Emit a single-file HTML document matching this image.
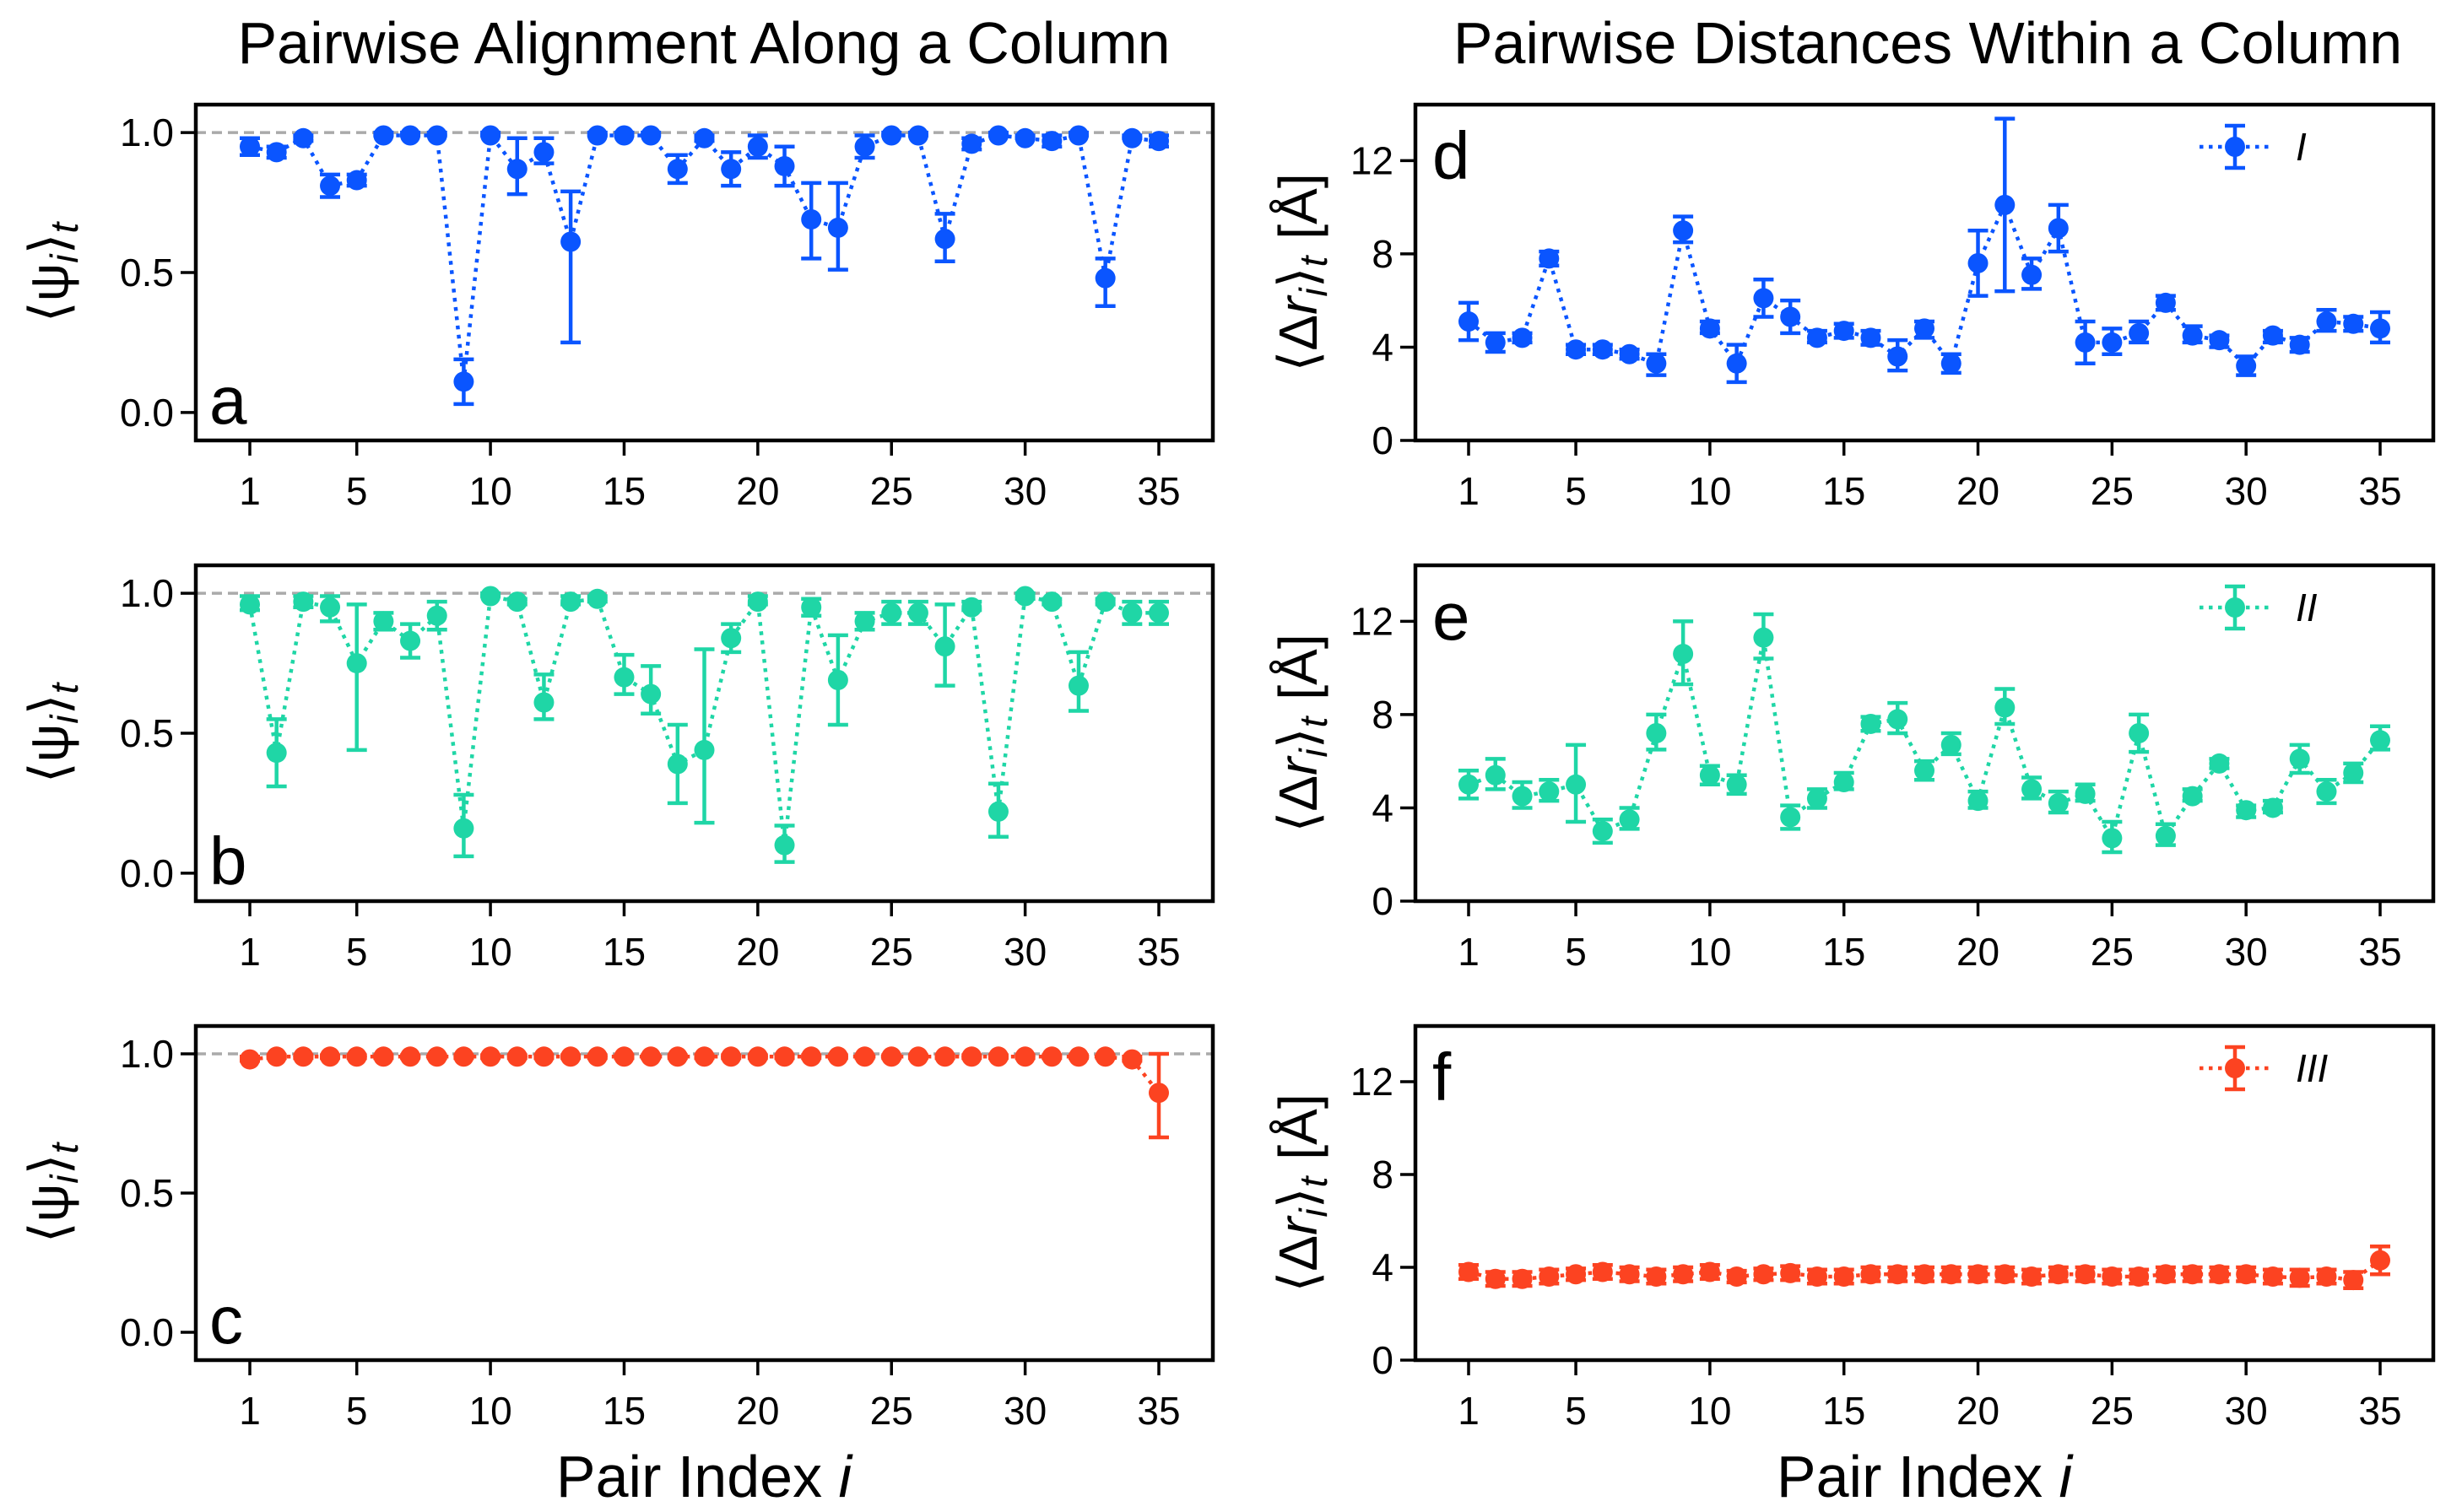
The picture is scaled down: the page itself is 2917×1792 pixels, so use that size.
<!DOCTYPE html>
<html><head><meta charset="utf-8"><style>
html,body{margin:0;padding:0;background:#fff;}
svg{display:block;font-family:"Liberation Sans",sans-serif;}
</style></head><body>
<svg id="fig" width="2917" height="1792" viewBox="0 0 2917 1792" xmlns="http://www.w3.org/2000/svg">
<text x="834" y="75" font-size="70" text-anchor="middle">Pairwise Alignment Along a Column</text>
<text x="2284" y="75" font-size="70" text-anchor="middle">Pairwise Distances Within a Column</text>
<text x="834" y="1774" font-size="70" text-anchor="middle">Pair Index <tspan font-style="italic">i</tspan></text>
<text x="2280" y="1774" font-size="70" text-anchor="middle">Pair Index <tspan font-style="italic">i</tspan></text>
</svg>
<script>
// ---- data ----
const pairIndex = [1,2,3,4,5,6,7,8,9,10,11,12,13,14,15,16,17,18,19,20,21,22,23,24,25,26,27,28,29,30,31,32,33,34,35];
const xTicks = [1,5,10,15,20,25,30,35];
const psiTicks = [0.0,0.5,1.0];
const psiTickLabels = ["0.0","0.5","1.0"];
const distTicks = [0,4,8,12];
const distTickLabels = ["0","4","8","12"];

const psiI   = [0.95,0.93,0.98,0.81,0.83,0.99,0.99,0.99,0.11,0.99,0.87,0.93,0.61,0.99,0.99,0.99,0.87,0.98,0.87,0.95,0.88,0.69,0.66,0.95,0.99,0.99,0.62,0.96,0.99,0.98,0.97,0.99,0.48,0.98,0.97];
const psiIlo = [0.92,0.91,0.97,0.77,0.81,0.99,0.99,0.99,0.03,0.99,0.78,0.89,0.25,0.99,0.99,0.99,0.82,0.97,0.81,0.91,0.81,0.55,0.51,0.91,0.99,0.99,0.54,0.94,0.99,0.98,0.95,0.99,0.38,0.98,0.95];
const psiIhi = [0.98,0.95,0.99,0.85,0.85,1.0,1.0,1.0,0.19,1.0,0.98,0.98,0.79,1.0,1.0,1.0,0.92,0.99,0.93,0.99,0.95,0.82,0.82,0.99,1.0,1.0,0.71,0.98,1.0,0.99,0.99,1.0,0.55,0.99,0.99];

const psiII   = [0.96,0.43,0.97,0.95,0.75,0.90,0.83,0.92,0.16,0.99,0.97,0.61,0.97,0.98,0.70,0.64,0.39,0.44,0.84,0.97,0.10,0.95,0.69,0.90,0.93,0.93,0.81,0.95,0.22,0.99,0.97,0.67,0.97,0.93,0.93];
const psiIIlo = [0.94,0.31,0.95,0.90,0.44,0.87,0.77,0.87,0.06,0.99,0.96,0.55,0.96,0.97,0.64,0.57,0.25,0.18,0.79,0.96,0.04,0.92,0.53,0.87,0.89,0.89,0.67,0.94,0.13,0.98,0.96,0.58,0.96,0.89,0.89];
const psiIIhi = [0.99,0.55,0.99,0.99,0.96,0.93,0.89,0.97,0.28,1.0,0.98,0.71,0.99,0.99,0.78,0.74,0.53,0.80,0.89,0.99,0.17,0.98,0.85,0.93,0.97,0.97,0.96,0.97,0.32,1.0,0.98,0.79,0.98,0.97,0.97];

const psiIII   = [0.98,0.99,0.99,0.99,0.99,0.99,0.99,0.99,0.99,0.99,0.99,0.99,0.99,0.99,0.99,0.99,0.99,0.99,0.99,0.99,0.99,0.99,0.99,0.99,0.99,0.99,0.99,0.99,0.99,0.99,0.99,0.99,0.99,0.98,0.86];
const psiIIIlo = [0.975,0.985,0.985,0.985,0.985,0.985,0.985,0.985,0.985,0.985,0.985,0.985,0.985,0.985,0.985,0.985,0.985,0.985,0.985,0.985,0.985,0.985,0.985,0.985,0.985,0.985,0.985,0.985,0.985,0.985,0.985,0.985,0.985,0.975,0.70];
const psiIIIhi = [0.99,0.995,0.995,0.995,0.995,0.995,0.995,0.995,0.995,0.995,0.995,0.995,0.995,0.995,0.995,0.995,0.995,0.995,0.995,0.995,0.995,0.995,0.995,0.995,0.995,0.995,0.995,0.995,0.995,0.995,0.995,0.995,0.995,0.99,1.0];

const distI   = [5.1,4.2,4.4,7.8,3.9,3.9,3.7,3.3,9.0,4.8,3.3,6.1,5.3,4.4,4.7,4.4,3.6,4.8,3.3,7.6,10.1,7.1,9.1,4.2,4.2,4.6,5.9,4.5,4.3,3.2,4.5,4.1,5.1,5.0,4.8];
const distIlo = [4.3,3.8,4.2,7.5,3.7,3.7,3.5,2.8,8.5,4.6,2.5,5.3,4.6,4.2,4.4,4.1,3.0,4.4,2.9,6.2,6.4,6.5,8.1,3.3,3.7,4.2,5.6,4.2,4.0,2.8,4.2,3.8,4.7,4.7,4.2];
const distIhi = [5.9,4.6,4.6,8.1,4.1,4.1,3.9,3.7,9.6,5.1,4.1,6.9,6.0,4.7,5.0,4.7,4.3,5.1,3.7,9.0,13.8,7.8,10.1,5.1,4.8,5.1,6.2,4.9,4.5,3.6,4.7,4.4,5.6,5.3,5.5];

const distII   = [5.0,5.4,4.5,4.7,5.0,3.0,3.5,7.2,10.6,5.4,5.0,11.3,3.6,4.4,5.1,7.6,7.8,5.6,6.7,4.3,8.3,4.8,4.2,4.6,2.7,7.2,2.8,4.5,5.9,3.9,4.0,6.1,4.7,5.5,6.9];
const distIIlo = [4.4,4.8,4.0,4.3,3.4,2.5,3.1,6.5,9.3,5.0,4.6,10.4,3.1,4.0,4.8,7.3,7.2,5.2,6.3,4.0,7.6,4.4,3.8,4.3,2.1,6.4,2.4,4.3,5.7,3.6,3.8,5.5,4.2,5.1,6.5];
const distIIhi = [5.6,6.1,5.1,5.2,6.7,3.5,4.0,8.0,12.0,5.8,5.4,12.3,4.1,4.8,5.5,7.9,8.5,6.0,7.2,4.7,9.1,5.3,4.7,5.0,3.4,8.0,3.3,4.8,6.1,4.1,4.3,6.7,5.2,5.9,7.5];

const distIII   = [3.8,3.5,3.5,3.6,3.7,3.8,3.7,3.6,3.7,3.8,3.6,3.7,3.75,3.6,3.6,3.7,3.7,3.7,3.7,3.7,3.7,3.6,3.7,3.7,3.6,3.6,3.7,3.7,3.7,3.7,3.6,3.55,3.6,3.45,4.3];
const distIIIlo = [3.5,3.2,3.2,3.3,3.45,3.5,3.4,3.3,3.4,3.5,3.35,3.45,3.45,3.3,3.3,3.4,3.4,3.4,3.4,3.4,3.4,3.3,3.4,3.4,3.3,3.3,3.4,3.4,3.4,3.4,3.3,3.2,3.3,3.1,3.7];
const distIIIhi = [4.1,3.8,3.8,3.9,3.95,4.1,4.0,3.9,4.0,4.1,3.85,3.95,4.05,3.9,3.9,4.0,4.0,4.0,4.0,4.0,4.0,3.9,4.0,4.0,3.9,3.9,4.0,4.0,4.0,4.0,3.9,3.9,3.9,3.8,4.9];

// ---- drawing ----
const NS = "http://www.w3.org/2000/svg";
const svg = document.getElementById('fig');
function el(tag, attrs, parent){ const e=document.createElementNS(NS,tag); for(const k in attrs) e.setAttribute(k,attrs[k]); (parent||svg).appendChild(e); return e; }

const BLUE="#0a55ff", TEAL="#1fd6a6", RED="#fc4321";
const rows=[{top:124,bot:522},{top:670,bot:1068},{top:1216,bot:1612}];

function panel(opts){
  const g = el('g',{});
  
  
  const L=opts.left, R=opts.right, T=opts.top, B=opts.bot;
  const xs = v => opts.x1 + (v-1)*(opts.x35-opts.x1)/34;
  const ys = v => B - (v-opts.ymin)/(opts.ymax-opts.ymin)*(B-T);
  if(opts.refLine){
    const rl = el('line',{x1:L,x2:R,y1:ys(1),y2:ys(1),stroke:'#aaaaaa','stroke-width':3.5,'stroke-dasharray':'12,7'},g);
    
    
  }
  let d='';
  opts.vals.forEach((v,i)=>{ d += (i?'L':'M')+xs(pairIndex[i]).toFixed(1)+','+ys(v).toFixed(1); });
  const ln = el('path',{d:d,fill:'none',stroke:opts.color,'stroke-width':4.5,'stroke-dasharray':'4.5,6.5'},g);
  
  
  opts.vals.forEach((v,i)=>{
    const x=xs(pairIndex[i]);
    const eg = el('g',{},g);
    
    
    const y1=ys(opts.lo[i]), y2=ys(opts.hi[i]);
    el('line',{x1:x,x2:x,y1:y1,y2:y2,stroke:opts.color,'stroke-width':4.5},eg);
    el('line',{x1:x-12,x2:x+12,y1:y1,y2:y1,stroke:opts.color,'stroke-width':4.5},eg);
    el('line',{x1:x-12,x2:x+12,y1:y2,y2:y2,stroke:opts.color,'stroke-width':4.5},eg);
    el('circle',{cx:x,cy:ys(v),r:12,fill:opts.color},eg);
  });
  const fr = el('rect',{x:L,y:T,width:R-L,height:B-T,fill:'none',stroke:'#000','stroke-width':4.5},g);
  
  
  xTicks.forEach(t=>{
    const x=xs(t);
    el('line',{x1:x,x2:x,y1:B,y2:B+18,stroke:'#000','stroke-width':3.5},g);
    const tx = el('text',{x:x,y:B+76,'font-size':46,'text-anchor':'middle'},g);
    tx.textContent=String(t);
    
    
  });
  opts.yTicks.forEach((t,i)=>{
    const y=ys(t);
    el('line',{x1:L,x2:L-18,y1:y,y2:y,stroke:'#000','stroke-width':3.5},g);
    const tx = el('text',{x:L-26,y:y+16,'font-size':46,'text-anchor':'end'},g);
    tx.textContent=opts.yLabels[i];
    
    
  });
  const pl = el('text',{x:opts.letterX,y:opts.letterY,'font-size':80},g);
  pl.textContent=opts.letter;
  
  
  const cy=(T+B)/2;
  const yt = el('text',{transform:'translate('+opts.ylabX+','+cy+') rotate(-90)','font-size':64,'text-anchor':'middle'},g);
  
  
  yt.innerHTML = opts.ylabel;
  if(opts.legend){
    const lg = el('g',{},g);
    
    
    const lx=2648, ly=T+50;
    el('line',{x1:lx-42,x2:lx+42,y1:ly,y2:ly,stroke:opts.color,'stroke-width':4.5,'stroke-dasharray':'4.5,6.5'},lg);
    el('line',{x1:lx,x2:lx,y1:ly-25,y2:ly+25,stroke:opts.color,'stroke-width':4.5},lg);
    el('line',{x1:lx-12,x2:lx+12,y1:ly-25,y2:ly-25,stroke:opts.color,'stroke-width':4.5},lg);
    el('line',{x1:lx-12,x2:lx+12,y1:ly+25,y2:ly+25,stroke:opts.color,'stroke-width':4.5},lg);
    el('circle',{cx:lx,cy:ly,r:12,fill:opts.color},lg);
    const lt = el('text',{x:lx+72,y:ly+16,'font-size':46,'font-style':'italic'},lg);
    lt.textContent=opts.legend;
  }
}

const psiLab = '⟨ψ<tspan font-style="italic" font-size="46" dy="12">i</tspan><tspan dy="-12">⟩</tspan><tspan font-style="italic" font-size="46" dy="12">t</tspan>';
const distLab = '⟨Δ<tspan font-style="italic">r</tspan><tspan font-style="italic" font-size="46" dy="12">i</tspan><tspan dy="-12">⟩</tspan><tspan font-style="italic" font-size="46" dy="12">t</tspan><tspan dy="-12" dx="20">[Å]</tspan>';

const leftSeries=[[psiI,psiIlo,psiIhi,BLUE,'a'],[psiII,psiIIlo,psiIIhi,TEAL,'b'],[psiIII,psiIIIlo,psiIIIhi,RED,'c']];
const rightSeries=[[distI,distIlo,distIhi,BLUE,'d','I'],[distII,distIIlo,distIIhi,TEAL,'e','II'],[distIII,distIIIlo,distIIIhi,RED,'f','III']];
leftSeries.forEach((s,r)=>{
  panel({name:'panel-'+s[4],left:232,right:1437,top:rows[r].top,bot:rows[r].bot,x1:296,x35:1373,ymin:-0.1,ymax:1.1,
    vals:s[0],lo:s[1],hi:s[2],color:s[3],refLine:true,yTicks:psiTicks,yLabels:psiTickLabels,
    letter:s[4],letterX:248,letterY:rows[r].bot-20,ylabX:80,ylabel:psiLab});
});
rightSeries.forEach((s,r)=>{
  panel({name:'panel-'+s[4],left:1677,right:2883,top:rows[r].top,bot:rows[r].bot,x1:1740,x35:2820,ymin:0,ymax:14.4,
    vals:s[0],lo:s[1],hi:s[2],color:s[3],refLine:false,yTicks:distTicks,yLabels:distTickLabels,
    letter:s[4],letterX:1697,letterY:rows[r].top+88,ylabX:1560,ylabel:distLab,legend:s[5]});
});
</script>
</body></html>
